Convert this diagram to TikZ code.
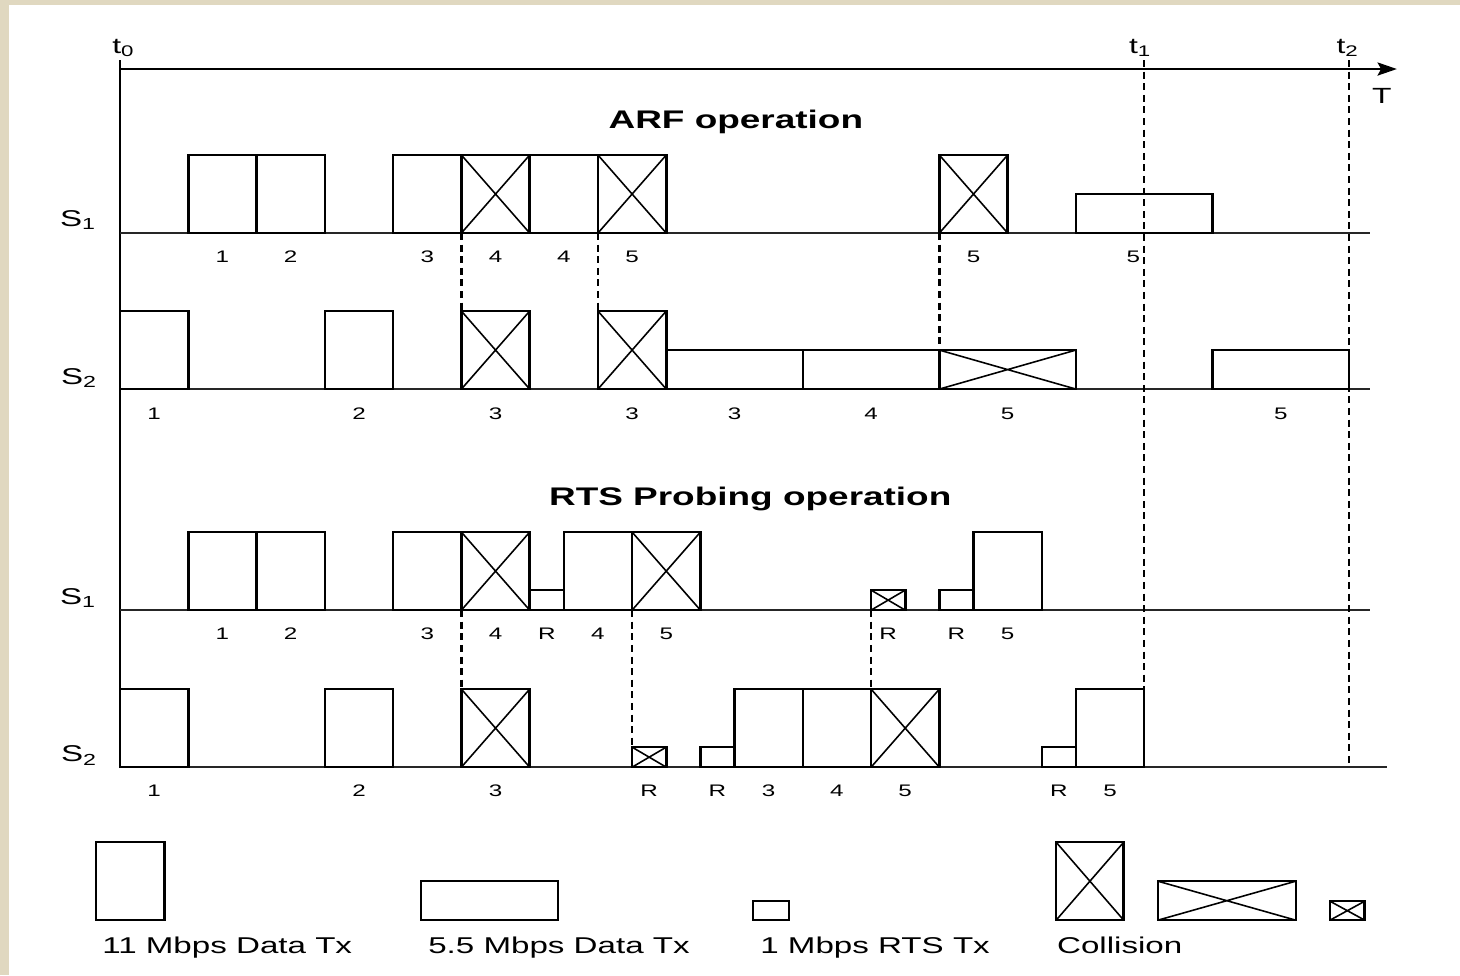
\documentclass[tikz,border=0pt]{standalone}
\usepackage{fontspec}
\setmainfont{Liberation Sans}[FakeStretch=1.45]
\usetikzlibrary{arrows.meta}

\definecolor{paper}{RGB}{224,216,192}

\newcommand{\txslot}[4]{\draw[box] (#1,#3) rectangle (#2,#3-#4);}
\newcommand{\cxslot}[4]{\draw[box] (#1,#3) rectangle (#2,#3-#4);
  \draw[cross] (#1,#3) -- (#2,#3-#4) (#1,#3-#4) -- (#2,#3);}

\tikzset{
  box/.style={line width=1.45pt},
  cross/.style={line width=0.9pt},
  axis/.style={line width=1.1pt},
  baseln/.style={line width=1.1pt, black!85},
  sync/.style={line width=1.3pt, dash pattern=on 4pt off 2.6pt},
  num/.style={inner sep=0pt, font=\fontsize{9.5}{10}\selectfont},
  stn/.style={inner sep=0pt, anchor=base, font=\fontsize{13}{15}\selectfont},
  tlab/.style={inner sep=0pt, anchor=base, font=\fontsize{12.5}{14}\selectfont},
  title/.style={inner sep=0pt, anchor=base, font=\fontsize{14.5}{16}\selectfont\bfseries},
  legend/.style={inner sep=0pt, anchor=base west, font=\fontsize{13}{15}\selectfont}
}

\begin{document}
\begin{tikzpicture}[x=1.3656cm, y=-0.02cm]
  % background
  \useasboundingbox (-1.7575,0) rectangle (19.6251,975);
  \fill[paper] (-1.7575,0) rectangle (19.6251,975);
  \fill[white] (-1.6257,5) rectangle (19.6251,975);

  % time axis
  \draw[axis] (0,768) -- (0,60);
  \draw[axis,-{Stealth[length=11pt,width=7.5pt,inset=2pt]}] (0,69) -- (18.70,69);
  \node[tlab] (t0) at (0.05,53) {t\textsubscript{0}};
  \node[tlab] (t1) at (14.94,53) {t\textsubscript{1}};
  \node[tlab] (t2) at (17.98,53) {t\textsubscript{2}};
  \node[tlab] (tt) at (18.48,103) {T};

  % station lines
  \foreach \y/\e in {233/18.31, 389/18.31, 610/18.31, 767/18.56}
    \draw[baseln] (0,\y) -- (\e,\y);
  \node[stn] (s1a) at (-0.615,226) {S\textsubscript{1}};
  \node[stn] (s2a) at (-0.6,384) {S\textsubscript{2}};
  \node[stn] (s1b) at (-0.615,604) {S\textsubscript{1}};
  \node[stn] (s2b) at (-0.6,761) {S\textsubscript{2}};

  % titles
  \node[title] (arf) at (9.02,128) {ARF operation};
  \node[title] (rts) at (9.23,505) {RTS Probing operation};

  % ARF, S1
  \foreach \a/\b/\h in {1/2/78, 2/3/78, 4/5/78, 6/7/78, 14/16/39}
    {\txslot{\a}{\b}{233}{\h}}
  \foreach \a/\b/\h in {5/6/78, 7/8/78, 12/13/78}
    {\cxslot{\a}{\b}{233}{\h}}
  \foreach \x/\t [count=\i] in {1.5/1, 2.5/2, 4.5/3, 5.5/4, 6.5/4, 7.5/5, 12.5/5, 14.84/5}
    \node[num] (arfa\i) at (\x,256.5) {\t};

  % ARF, S2
  \foreach \a/\b/\h in {0/1/78, 3/4/78, 8/10/39, 10/12/39, 16/18/39}
    {\txslot{\a}{\b}{389}{\h}}
  \foreach \a/\b/\h in {5/6/78, 7/8/78, 12/14/39}
    {\cxslot{\a}{\b}{389}{\h}}
  \foreach \x/\t [count=\i] in {0.5/1, 3.5/2, 5.5/3, 7.5/3, 9/3, 11/4, 13/5, 17/5}
    \node[num] (arfb\i) at (\x,414) {\t};

  % RTS probing, S1
  \foreach \a/\b/\h in {1/2/78, 2/3/78, 4/5/78, 6.5/7.5/78, 12.5/13.5/78, 6/6.5/20, 12/12.5/20}
    {\txslot{\a}{\b}{610}{\h}}
  \foreach \a/\b/\h in {5/6/78, 7.5/8.5/78, 11/11.5/20}
    {\cxslot{\a}{\b}{610}{\h}}
  \foreach \x/\t [count=\i] in {1.5/1, 2.5/2, 4.5/3, 5.5/4, 6.25/R, 7/4, 8/5, 11.25/R, 12.25/R, 13/5}
    \node[num] (rtsa\i) at (\x,634) {\t};

  % RTS probing, S2
  \foreach \a/\b/\h in {0/1/78, 3/4/78, 9/10/78, 10/11/78, 14/15/78, 8.5/9/20, 13.5/14/20}
    {\txslot{\a}{\b}{767}{\h}}
  \foreach \a/\b/\h in {5/6/78, 11/12/78, 7.5/8/20}
    {\cxslot{\a}{\b}{767}{\h}}
  \foreach \x/\t [count=\i] in {0.5/1, 3.5/2, 5.5/3, 7.75/R, 8.75/R, 9.5/3, 10.5/4, 11.5/5, 13.75/R, 14.5/5}
    \node[num] (rtsb\i) at (\x,791) {\t};

  % collision marks between the stations
  \draw[sync] (5,233) -- (5,311);
  \draw[sync] (7,233) -- (7,311);
  \draw[sync] (12,233) -- (12,350);
  \draw[sync] (5,610) -- (5,688);
  \draw[sync] (7.5,610) -- (7.5,747);
  \draw[sync] (11,610) -- (11,688);

  % t1 and t2
  \draw[sync] (15,60) -- (15,688);
  \draw[sync] (18,60) -- (18,767);

  % legend
  \draw[box] (-0.3515,920) rectangle (0.65,842);
  \draw[box] (4.408,920) rectangle (6.415,881);
  \draw[box] (9.27,920) rectangle (9.80,901);
  \draw[box] (13.71,920) rectangle (14.70,842);
  \draw[cross] (13.71,920) -- (14.70,842) (13.71,842) -- (14.70,920);
  \draw[box] (15.20,920) rectangle (17.22,881);
  \draw[cross] (15.20,920) -- (17.22,881) (15.20,881) -- (17.22,920);
  \draw[box] (17.72,920) rectangle (18.23,901);
  \draw[cross] (17.72,920) -- (18.23,901) (17.72,901) -- (18.23,920);
  \node[legend] (lg1) at (-0.264,953) {11 Mbps Data Tx};
  \node[legend] (lg2) at (4.51,953) {5.5 Mbps Data Tx};
  \node[legend] (lg3) at (9.373,953) {1 Mbps RTS Tx};
  \node[legend] (lg4) at (13.72,953) {Collision};
\end{tikzpicture}
\end{document}
